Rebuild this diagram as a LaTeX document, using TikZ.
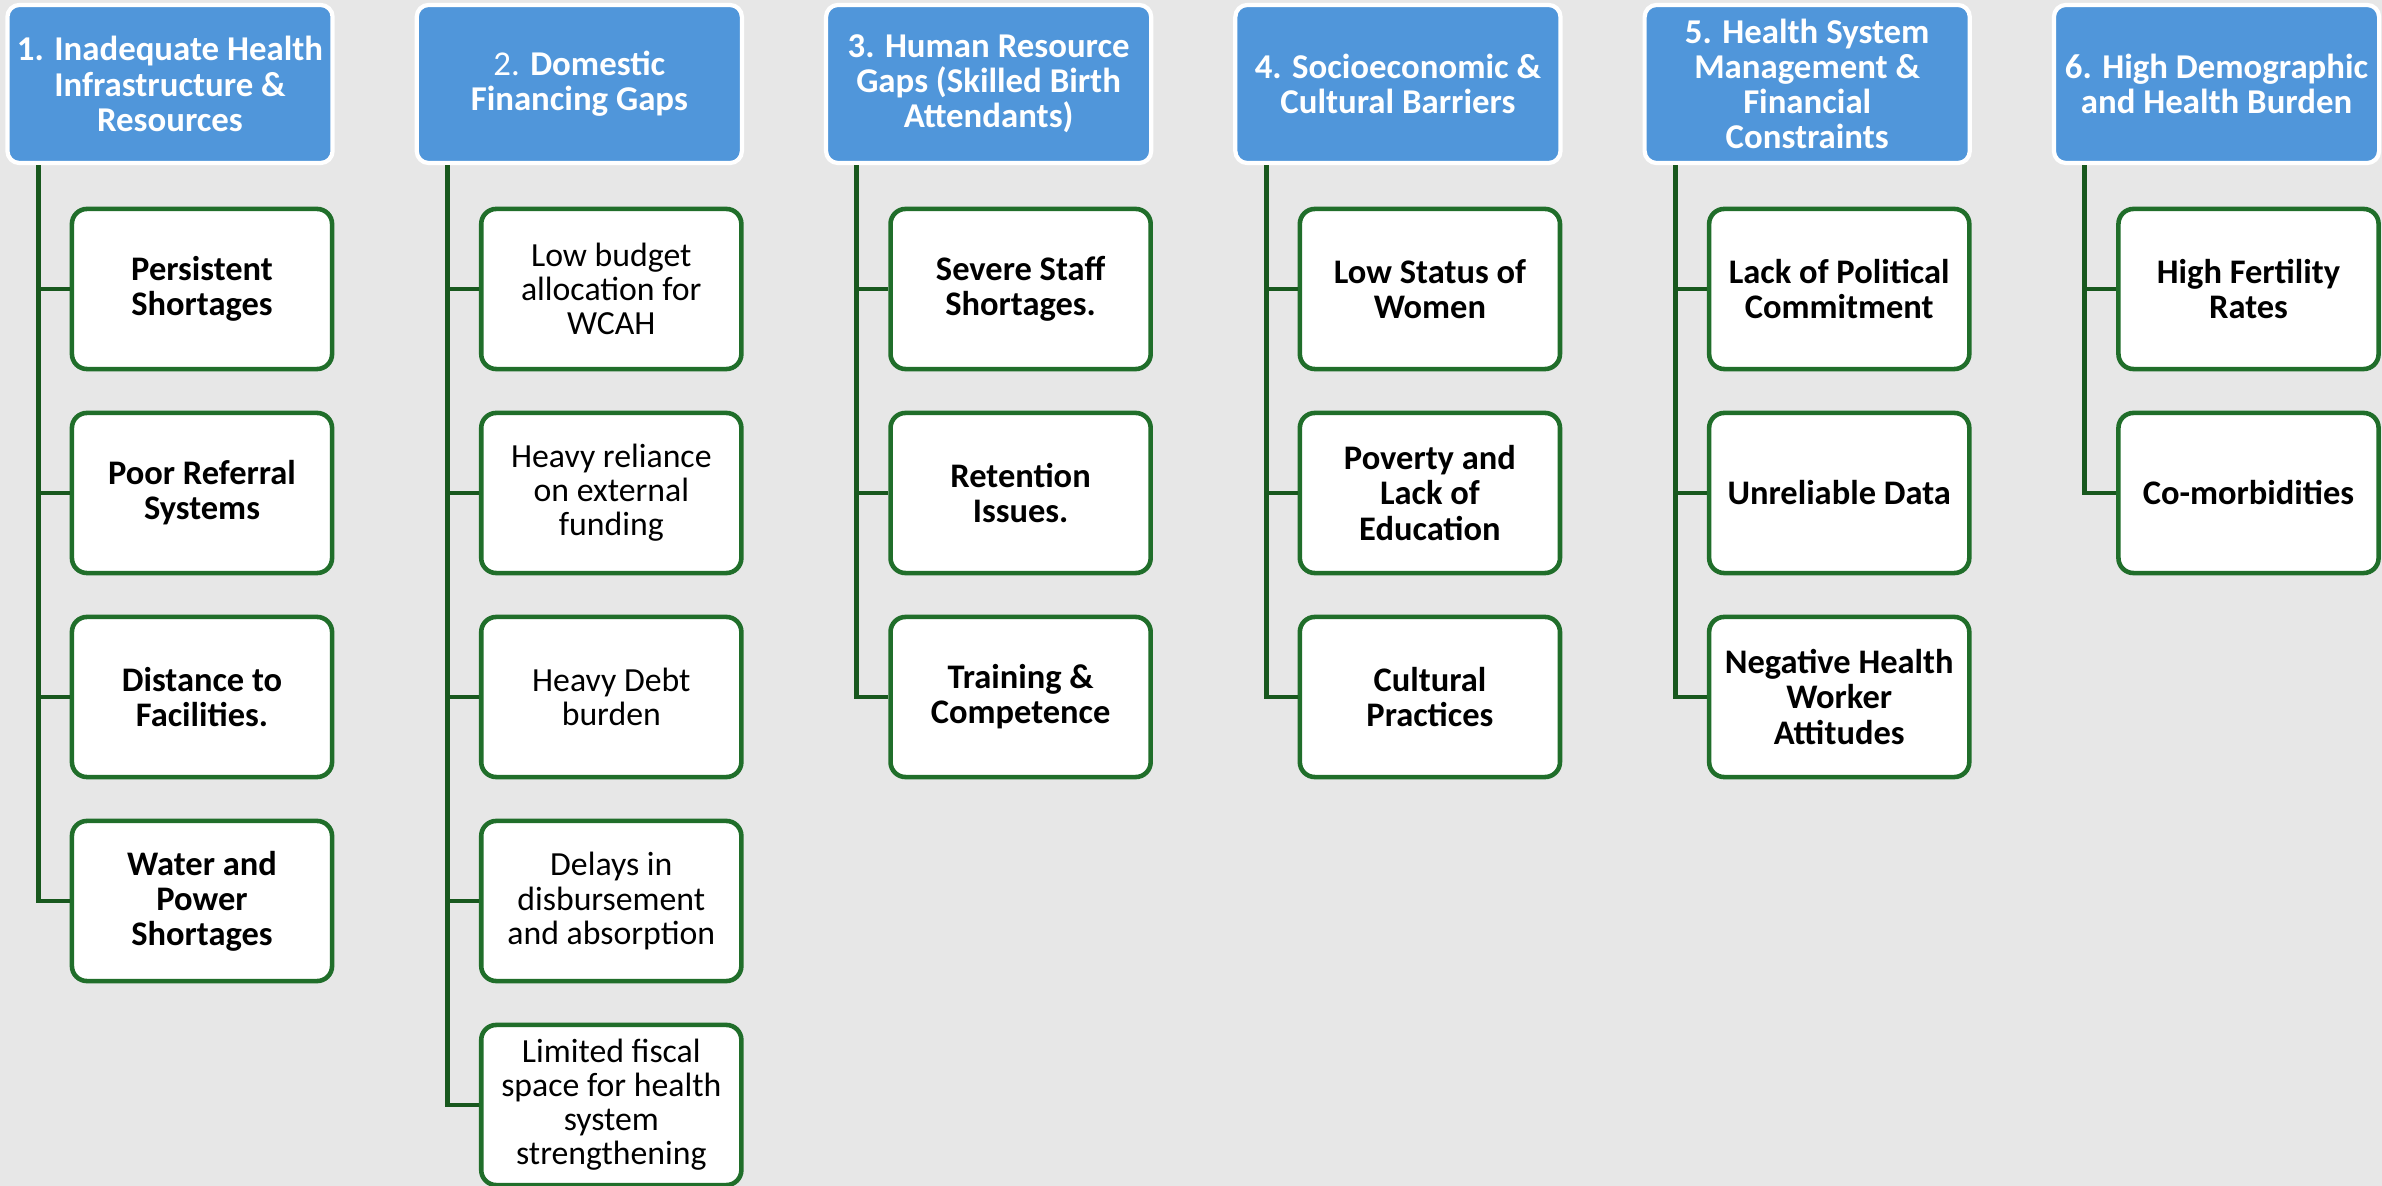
\documentclass[tikz,border=0pt]{standalone}
\usepackage{fontspec}
\setmainfont{Carlito}
\usepackage{tikz}
\usetikzlibrary{calc}
\definecolor{hdrblue}{RGB}{80,150,218}
\definecolor{boxgreen}{RGB}{32,110,42}
\definecolor{linegreen}{RGB}{24,88,30}
\definecolor{bggray}{RGB}{231,231,231}

\begin{document}
\begin{tikzpicture}[x=0.01cm, y=-0.01cm,
  hdr/.style={draw=white, line width=1.2pt, fill=hdrblue, text=white, rounded corners=0.12cm,
    minimum width=3.25cm, minimum height=1.58cm, align=center, inner sep=0pt,
    font=\fontsize{9.9}{10}\selectfont\bfseries},
  leaf/.style={draw=boxgreen, line width=1.3pt, fill=white, rounded corners=0.15cm,
    minimum width=2.6cm, minimum height=1.6cm, align=center, inner sep=0pt,
    font=\fontsize{9.8}{10}\selectfont\bfseries},
  plain/.style={font=\fontsize{9.6}{9.7}\selectfont},
  branch/.style={draw=linegreen, line width=1.4pt}]
\fill[bggray] (0,0) rectangle (2382,1186);
\useasboundingbox (0,0) rectangle (2382,1186);
\foreach \t [count=\i from 0] in {{1. Inadequate Health\\Infrastructure \&\\Resources},
  {{\mdseries 2.} Domestic\\Financing Gaps},
  {3. Human Resource\\Gaps (Skilled Birth\\Attendants)},
  {4. Socioeconomic \&\\Cultural Barriers},
  {5. Health System\\Management \&\\Financial\\Constraints},
  {6. High Demographic\\and Health Burden}}{
\node[hdr] (h\i) at (170+409.3*\i, 84) {\t};}
\foreach \t [count=\k from 0] in {{Persistent\\Shortages}, {Poor Referral\\Systems},
  {Distance to\\Facilities.}, {Water and\\Power\\Shortages}}{
\node[leaf] (c0-\k) at (202, 289+204*\k) {\t};}
\foreach \t [count=\k from 0] in {{Low budget\\allocation for\\WCAH}, {Heavy reliance\\on external\\funding},
  {Heavy Debt\\burden}, {Delays in\\disbursement\\and absorption},
  {Limited fiscal\\space for health\\system\\strengthening}}{
\node[leaf, plain] (c1-\k) at (202+409.3, 289+204*\k) {\t};}
\foreach \t [count=\k from 0] in {{Severe Staff\\Shortages.}, {Retention\\Issues.}, {Training \&\\Competence}}{
\node[leaf] (c2-\k) at (202+2*409.3, 289+204*\k) {\t};}
\foreach \t [count=\k from 0] in {{Low Status of\\Women}, {Poverty and\\Lack of\\Education}, {Cultural\\Practices}}{
\node[leaf] (c3-\k) at (202+3*409.3, 289+204*\k) {\t};}
\foreach \t [count=\k from 0] in {{Lack of Political\\Commitment}, {Unreliable Data}, {Negative Health\\Worker\\Attitudes}}{
\node[leaf] (c4-\k) at (202+4*409.3, 289+204*\k) {\t};}
\foreach \t [count=\k from 0] in {{High Fertility\\Rates}, {Co-morbidities}}{
\node[leaf] (c5-\k) at (202+5*409.3, 289+204*\k) {\t};}
\foreach \c/\n in {0/3, 1/4, 2/2, 3/2, 4/2, 5/1}{
\foreach \k in {0,...,\n}{
\draw[branch] ($(h\c.south west)+(33,0)$) |- (c\c-\k.west);}}
\end{tikzpicture}
\end{document}
